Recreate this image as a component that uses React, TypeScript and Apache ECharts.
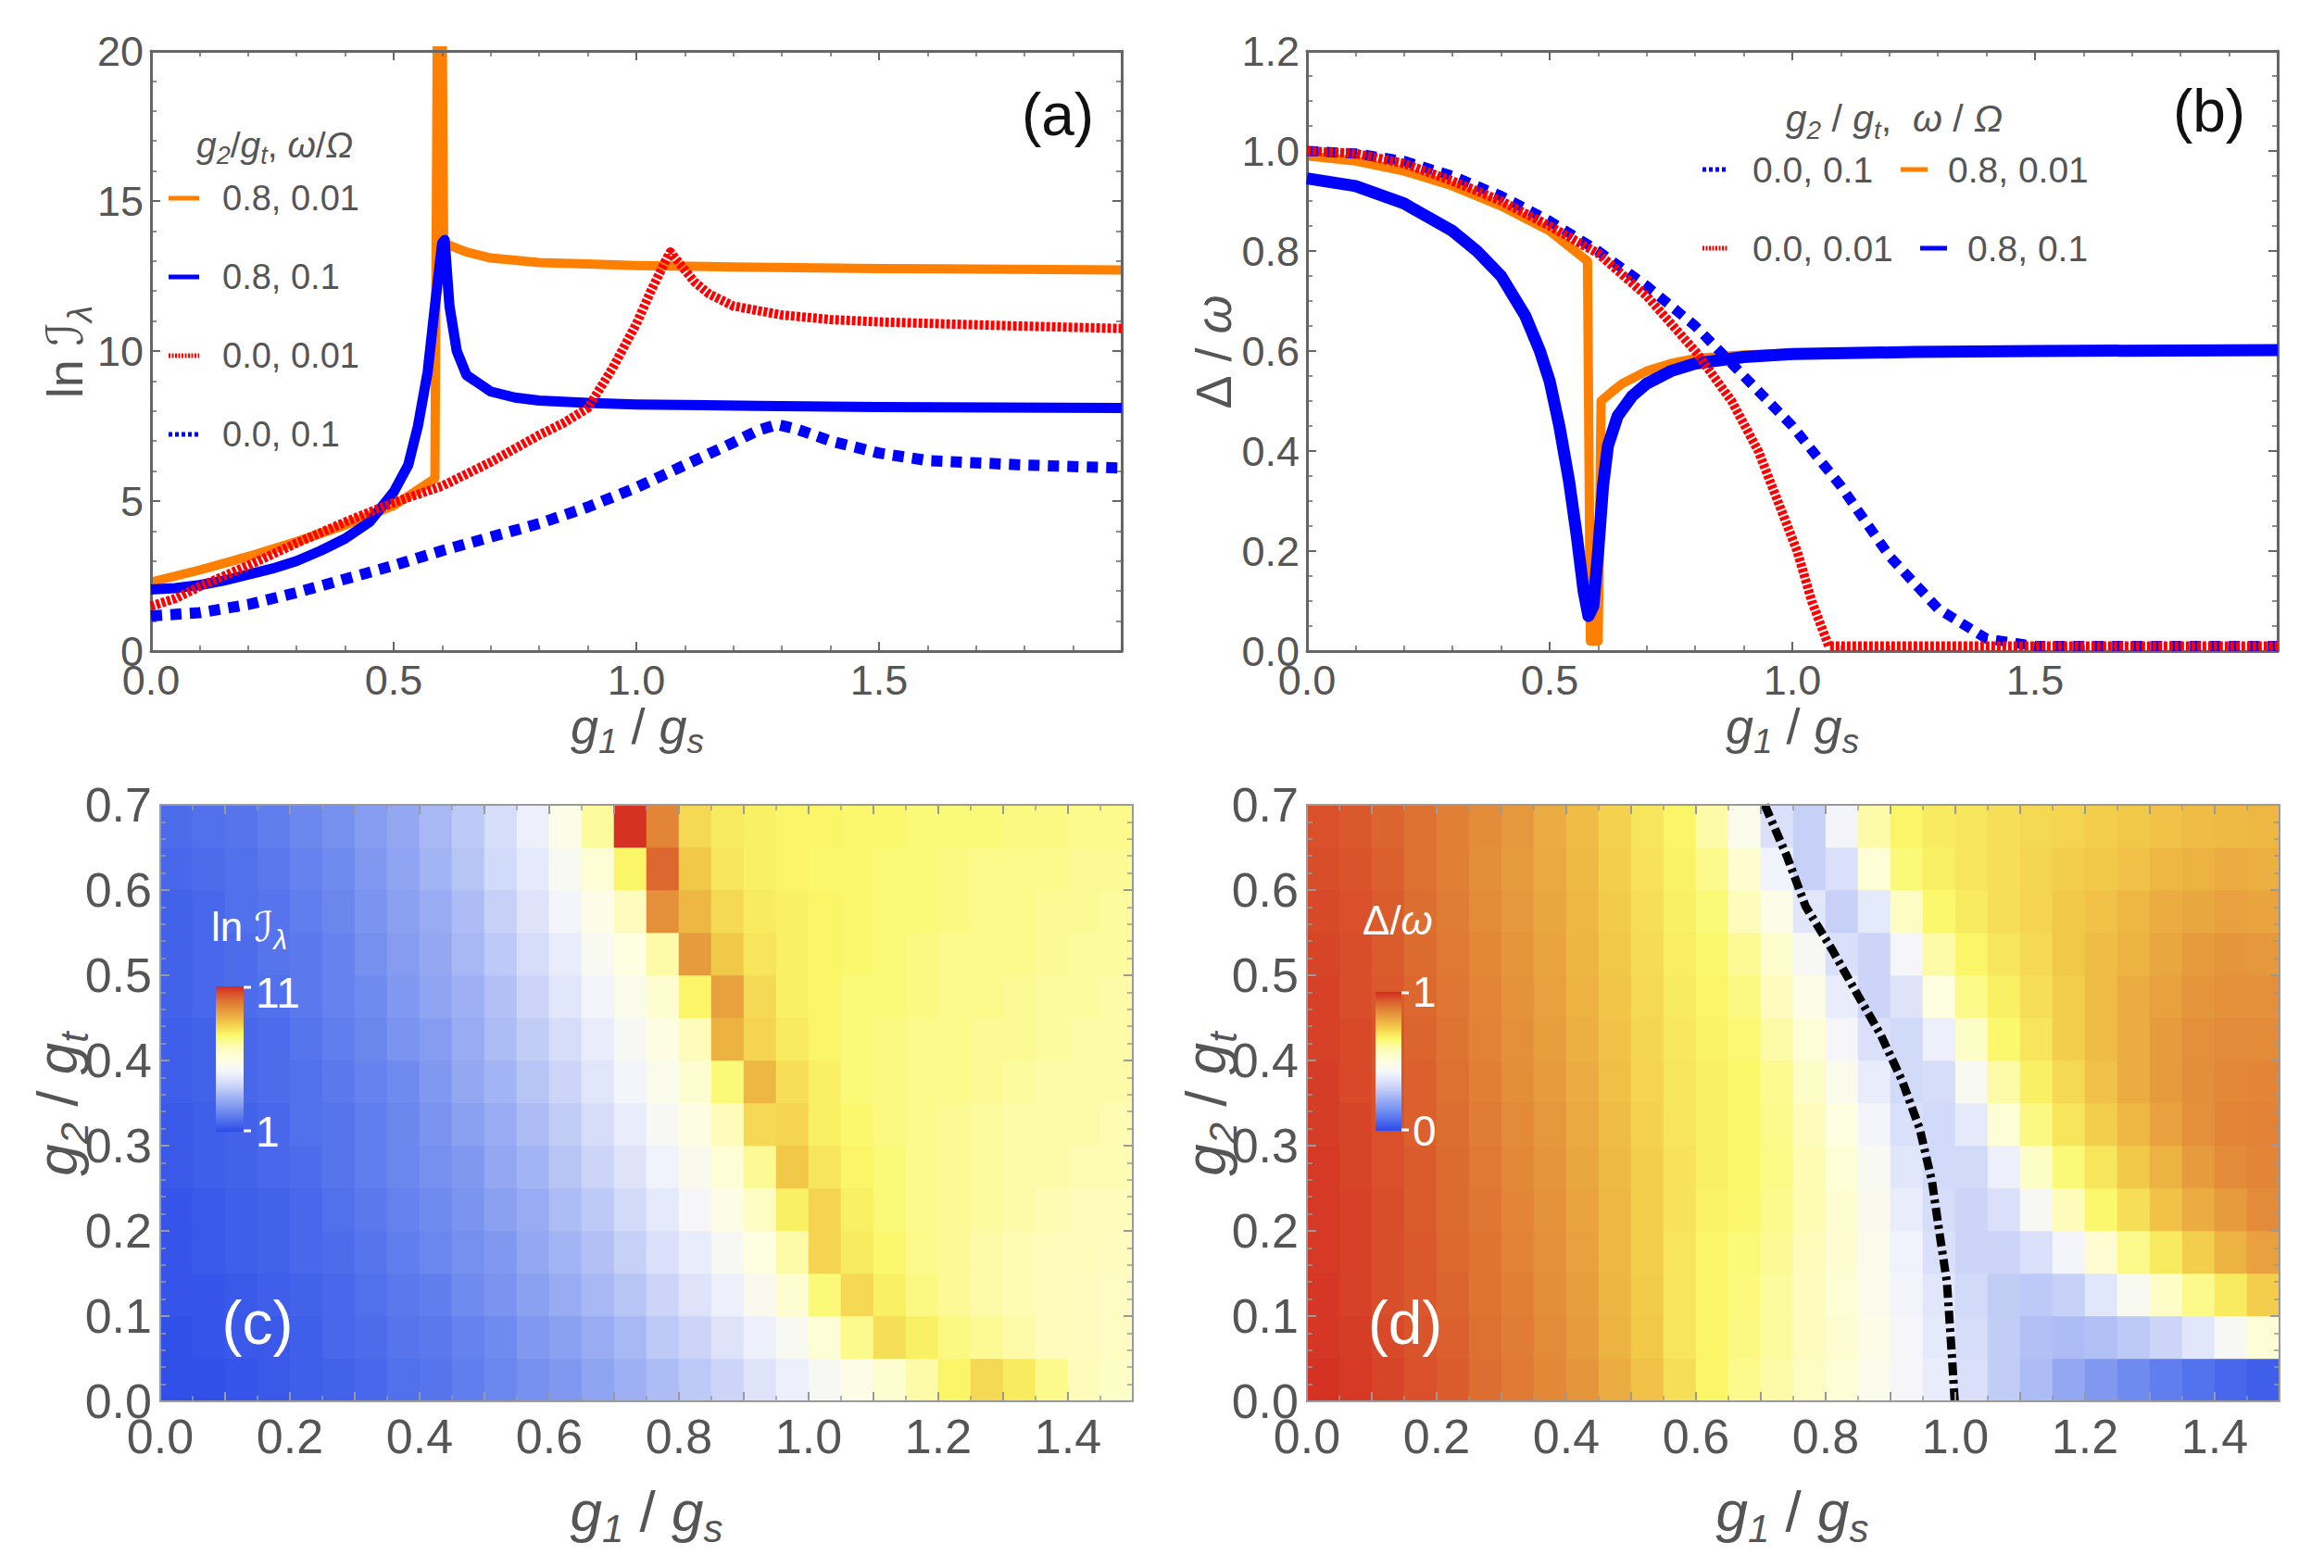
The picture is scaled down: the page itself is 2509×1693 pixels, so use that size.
import React, { useEffect, useRef } from 'react';
import * as echarts from 'echarts';

const FONT = '"Liberation Sans", Arial, Helvetica, "DejaVu Sans", sans-serif';
const TXT = '#555555';

// ---------- panel (a): ln I vs g1/gs ----------
const aOrange = [[0,2.3],[0.1,2.7],[0.2,3.15],[0.3,3.65],[0.4,4.2],[0.5,4.85],[0.585,5.75],[0.59,21],[0.6,21],[0.603,13.6],[0.65,13.3],[0.7,13.1],[0.8,12.95],[0.9,12.9],[1.0,12.85],[1.2,12.8],[1.5,12.75],[2.0,12.7]];
const aBlue = [[0,2.05],[0.05,2.1],[0.1,2.2],[0.15,2.35],[0.2,2.55],[0.25,2.75],[0.3,3.0],[0.35,3.35],[0.4,3.75],[0.45,4.3],[0.5,5.3],[0.53,6.2],[0.55,7.5],[0.57,9.3],[0.585,11.5],[0.6,13.6],[0.605,13.7],[0.615,11.5],[0.63,10.0],[0.65,9.2],[0.7,8.65],[0.75,8.45],[0.8,8.35],[0.9,8.27],[1.0,8.22],[1.25,8.17],[1.5,8.13],[2.0,8.1]];
const aRedDot = [[0,1.5],[0.05,1.75],[0.1,2.15],[0.15,2.5],[0.2,2.85],[0.3,3.6],[0.4,4.3],[0.5,4.95],[0.6,5.5],[0.7,6.3],[0.8,7.2],[0.85,7.6],[0.9,8.1],[0.95,9.4],[1.0,10.9],[1.03,12.0],[1.06,13.0],[1.07,13.3],[1.09,12.9],[1.12,12.3],[1.15,11.9],[1.2,11.5],[1.3,11.2],[1.4,11.05],[1.5,10.97],[1.75,10.85],[2.0,10.75]];
const aBlueDot = [[0,1.17],[0.1,1.28],[0.2,1.55],[0.3,1.95],[0.4,2.4],[0.5,2.85],[0.6,3.35],[0.7,3.8],[0.8,4.25],[0.9,4.8],[1.0,5.45],[1.1,6.2],[1.2,6.95],[1.25,7.35],[1.29,7.55],[1.33,7.4],[1.4,7.0],[1.5,6.6],[1.6,6.35],[1.8,6.2],[2.0,6.1]];

// ---------- panel (b): Delta/omega vs g1/gs ----------
const bOrange = [[0,0.99],[0.1,0.98],[0.2,0.96],[0.3,0.93],[0.4,0.89],[0.5,0.84],[0.578,0.78],[0.584,0.02],[0.6,0.02],[0.606,0.5],[0.63,0.52],[0.65,0.535],[0.7,0.56],[0.75,0.575],[0.8,0.585],[0.9,0.592],[1.0,0.596],[1.5,0.6],[2.0,0.6]];
const bBlue = [[0,0.945],[0.1,0.93],[0.2,0.895],[0.3,0.84],[0.35,0.8],[0.4,0.75],[0.45,0.67],[0.48,0.6],[0.5,0.54],[0.52,0.45],[0.54,0.34],[0.556,0.23],[0.57,0.12],[0.58,0.07],[0.59,0.09],[0.6,0.2],[0.61,0.33],[0.62,0.41],[0.64,0.47],[0.67,0.51],[0.7,0.535],[0.75,0.56],[0.8,0.575],[0.9,0.588],[1.0,0.594],[1.25,0.598],[1.5,0.6],[2.0,0.602]];
const bBlueDot = [[0,1.0],[0.1,0.995],[0.2,0.98],[0.3,0.95],[0.4,0.91],[0.5,0.86],[0.6,0.8],[0.7,0.73],[0.8,0.65],[0.9,0.55],[1.0,0.45],[1.1,0.33],[1.2,0.19],[1.3,0.085],[1.4,0.025],[1.5,0.01],[2.0,0.01]];
const bRedDot = [[0,1.0],[0.1,0.995],[0.2,0.975],[0.3,0.94],[0.4,0.9],[0.5,0.85],[0.6,0.795],[0.7,0.71],[0.8,0.6],[0.875,0.5],[0.93,0.4],[0.97,0.3],[1.01,0.2],[1.04,0.1],[1.075,0.01],[2.0,0.01]];

// ---------- heat maps (c), (d): cell centres ----------
const g1Centers = ['0.025','0.075','0.125','0.175','0.225','0.275','0.325','0.375','0.425','0.475','0.525','0.575','0.625','0.675','0.725','0.775','0.825','0.875','0.925','0.975','1.025','1.075','1.125','1.175','1.225','1.275','1.325','1.375','1.425','1.475'];
const g2Centers = ['0.025','0.075','0.125','0.175','0.225','0.275','0.325','0.375','0.425','0.475','0.525','0.575','0.625','0.675'];

// ln I (rows from g2 = 0.025 upward)
const lnIGrid = [
  [1.1,1.1,1.2,1.3,1.4,1.5,1.6,1.8,1.9,2.1,2.3,2.5,2.7,3.0,3.3,3.6,3.9,4.2,4.6,5.0,5.4,5.8,6.3,7.0,7.7,8.2,7.9,7.3,6.8,6.5],
  [1.1,1.2,1.3,1.3,1.4,1.6,1.7,1.9,2.0,2.2,2.4,2.7,2.9,3.2,3.5,3.9,4.2,4.6,5.0,5.5,6.2,7.3,8.1,7.8,7.4,7.2,7.0,6.8,6.7,6.6],
  [1.2,1.2,1.3,1.4,1.5,1.6,1.8,2.0,2.1,2.4,2.6,2.9,3.2,3.5,3.8,4.2,4.6,5.0,5.6,6.3,7.5,8.2,7.8,7.4,7.2,7.0,6.9,6.8,6.7,6.6],
  [1.2,1.3,1.4,1.5,1.6,1.7,1.9,2.1,2.3,2.5,2.7,3.1,3.4,3.7,4.1,4.5,4.9,5.4,6.0,7.0,8.3,7.9,7.6,7.3,7.2,7.0,6.9,6.8,6.8,6.7],
  [1.2,1.3,1.4,1.5,1.6,1.8,2.0,2.2,2.4,2.6,2.9,3.2,3.6,3.9,4.3,4.8,5.3,5.8,6.6,7.8,8.3,7.8,7.5,7.3,7.2,7.1,7.0,6.9,6.8,6.8],
  [1.3,1.4,1.5,1.6,1.7,1.9,2.1,2.3,2.5,2.7,3.1,3.4,3.8,4.2,4.6,5.1,5.6,6.2,7.2,8.5,8.0,7.7,7.5,7.3,7.2,7.1,7.0,7.0,6.9,6.9],
  [1.3,1.4,1.5,1.6,1.8,1.9,2.1,2.3,2.6,2.9,3.2,3.6,4.0,4.4,4.9,5.4,5.9,6.8,8.2,8.3,7.8,7.6,7.4,7.3,7.2,7.1,7.0,7.0,7.0,6.9],
  [1.4,1.5,1.6,1.7,1.8,2.0,2.2,2.4,2.7,3.1,3.4,3.8,4.2,4.7,5.2,5.7,6.3,7.5,8.8,8.1,7.8,7.5,7.4,7.3,7.3,7.2,7.1,7.0,7.0,7.0],
  [1.4,1.5,1.6,1.7,1.9,2.1,2.3,2.6,2.8,3.2,3.6,4.0,4.4,4.9,5.4,5.9,6.8,8.9,8.3,7.9,7.7,7.5,7.4,7.3,7.3,7.2,7.2,7.1,7.0,7.0],
  [1.5,1.6,1.7,1.8,2.0,2.2,2.4,2.7,3.0,3.3,3.7,4.2,4.7,5.2,5.7,6.3,7.7,9.2,8.2,7.8,7.7,7.5,7.5,7.4,7.3,7.3,7.2,7.1,7.1,7.0],
  [1.5,1.6,1.7,1.9,2.0,2.2,2.5,2.8,3.1,3.5,3.9,4.4,4.9,5.5,6.0,7.0,9.3,8.5,8.0,7.8,7.7,7.6,7.5,7.4,7.3,7.3,7.3,7.2,7.1,7.1],
  [1.5,1.6,1.8,1.9,2.1,2.3,2.6,2.9,3.2,3.6,4.1,4.6,5.2,5.8,6.7,9.5,8.8,8.2,7.9,7.8,7.7,7.6,7.5,7.5,7.4,7.3,7.3,7.2,7.2,7.1],
  [1.6,1.7,1.8,2.0,2.2,2.4,2.7,3.0,3.4,3.8,4.3,4.8,5.5,6.2,7.7,10.2,8.5,8.0,7.8,7.7,7.6,7.6,7.5,7.5,7.4,7.3,7.3,7.3,7.2,7.2],
  [1.7,1.8,1.9,2.1,2.3,2.5,2.8,3.1,3.5,3.9,4.4,5.0,5.8,7.1,10.9,9.7,8.2,7.9,7.8,7.7,7.7,7.6,7.6,7.5,7.5,7.5,7.4,7.4,7.3,7.3],
];

// Delta/omega (rows from g2 = 0.025 upward)
const gapGrid = [
  [.99,.98,.965,.95,.935,.91,.89,.865,.84,.8,.76,.71,.67,.63,.6,.56,.52,.47,.43,.39,.35,.3,.26,.21,.17,.14,.11,.085,.06,.04],
  [.985,.975,.96,.945,.93,.905,.885,.86,.83,.79,.75,.7,.67,.64,.61,.57,.53,.48,.43,.38,.34,.3,.27,.26,.27,.29,.32,.37,.44,.52],
  [.985,.97,.955,.94,.925,.9,.88,.855,.825,.785,.745,.7,.67,.645,.61,.57,.52,.47,.42,.37,.33,.3,.29,.31,.37,.45,.55,.63,.69,.74],
  [.98,.97,.955,.94,.92,.9,.875,.85,.82,.78,.74,.7,.67,.65,.62,.58,.53,.47,.41,.35,.32,.32,.35,.42,.53,.63,.69,.74,.79,.82],
  [.98,.97,.955,.935,.915,.895,.87,.845,.815,.78,.74,.705,.675,.66,.63,.59,.53,.46,.39,.34,.32,.35,.44,.58,.66,.71,.76,.8,.83,.86],
  [.98,.965,.95,.935,.915,.89,.865,.84,.81,.775,.74,.705,.68,.665,.635,.59,.52,.45,.37,.33,.33,.4,.55,.65,.7,.75,.79,.83,.86,.87],
  [.975,.965,.95,.93,.91,.885,.86,.835,.805,.77,.735,.7,.68,.665,.63,.58,.5,.42,.35,.33,.38,.52,.64,.7,.74,.78,.82,.85,.87,.875],
  [.975,.96,.945,.93,.905,.88,.855,.83,.8,.765,.73,.7,.68,.665,.625,.55,.47,.39,.33,.34,.45,.6,.68,.72,.76,.8,.83,.855,.865,.87],
  [.97,.96,.945,.925,.9,.875,.85,.825,.795,.76,.725,.695,.675,.655,.6,.52,.43,.35,.33,.4,.55,.66,.7,.74,.77,.8,.83,.85,.86,.86],
  [.97,.955,.94,.92,.895,.87,.845,.82,.79,.755,.72,.69,.67,.64,.57,.48,.39,.32,.36,.5,.63,.68,.71,.74,.77,.8,.82,.84,.85,.85],
  [.965,.955,.935,.915,.89,.865,.84,.815,.785,.75,.715,.685,.66,.62,.54,.44,.35,.32,.43,.6,.67,.7,.72,.75,.77,.79,.81,.83,.84,.835],
  [.96,.95,.935,.91,.885,.86,.835,.81,.78,.745,.71,.68,.65,.58,.48,.37,.31,.38,.56,.66,.69,.71,.73,.75,.76,.78,.8,.81,.82,.815],
  [.955,.945,.93,.905,.88,.855,.83,.805,.775,.74,.705,.675,.63,.53,.41,.31,.35,.52,.65,.68,.7,.71,.725,.74,.75,.76,.78,.79,.8,.795],
  [.95,.94,.925,.905,.88,.86,.835,.8,.77,.735,.7,.67,.6,.47,.35,.31,.42,.6,.67,.69,.7,.71,.72,.73,.74,.75,.76,.77,.775,.78],
];

// dot-dashed line in (d)
const dLine = [[0.999,0],[0.995,0.05],[0.987,0.14],[0.975,0.2],[0.964,0.258],[0.945,0.32],[0.918,0.376],[0.885,0.43],[0.85,0.476],[0.81,0.53],[0.769,0.581],[0.74,0.64],[0.706,0.7]];

const palette = ['#2d4be8','#5272ec','#7e97f0','#a8b8f4','#d3dbf8','#f4f5fc','#fefee0','#fdfcb8','#fbf868','#f2c848','#e69a3c','#dc6a30','#d42a22'];

const ORANGE = '#ff8000';
const BLUE = '#0000ff';
const RED = '#ff0000';

function vAxis(o: any) {
  return {
    type: 'value', gridIndex: o.grid, position: o.pos, min: o.min, max: o.max, interval: o.interval, z: o.z ?? 3,
    axisLine: { show: true, onZero: false, lineStyle: { color: o.color, width: o.lw } },
    axisTick: { show: true, inside: true, length: 10, lineStyle: { color: o.color, width: 2 } },
    minorTick: { show: true, splitNumber: o.minor, length: 6, lineStyle: { color: o.color, width: 1.5 } },
    splitLine: { show: false },
    minorSplitLine: { show: false },
    axisLabel: { show: !!o.labels, formatter: o.fmt, fontSize: o.size, color: TXT, fontFamily: FONT, margin: o.margin ?? 8, showMinLabel: true, showMaxLabel: true },
  };
}

function rich(S: number, color: string) {
  const base = { fontFamily: FONT, fill: color, color };
  const pad = Math.round(S * 0.15);
  return {
    n: { ...base, fontSize: S, lineHeight: Math.round(S * 1.2), verticalAlign: 'bottom', padding: [0, 0, pad, 0] },
    i: { ...base, fontSize: S, fontStyle: 'italic', lineHeight: Math.round(S * 1.2), verticalAlign: 'bottom', padding: [0, 0, pad, 0] },
    s: { ...base, fontSize: Math.round(S * 0.68), fontStyle: 'italic', lineHeight: Math.round(S * 0.8), verticalAlign: 'bottom' },
  };
}

function rtext(text: string, x: number, y: number, S: number, color: string, align = 'center', rotation = 0) {
  return {
    type: 'text', x, y, rotation, z: 100,
    style: { text, rich: rich(S, color), align, verticalAlign: 'middle', fill: color, fontSize: S, fontFamily: FONT },
  };
}

function ptext(text: string, x: number, y: number, S: number, color: string, align = 'left') {
  return { type: 'text', x, y, z: 100, style: { text, fill: color, fontSize: S, fontFamily: FONT, align, verticalAlign: 'middle' } };
}

function sample(x1: number, x2: number, y: number, color: string, dash: number[] | null) {
  return { type: 'line', z: 100, shape: { x1, y1: y, x2, y2: y }, style: { stroke: color, lineWidth: 5, lineDash: dash || undefined, lineCap: 'butt' } };
}

function lineSeries(data: number[][], xi: number, color: string, width: number, dash: number[] | null, z: number) {
  return {
    type: 'line', xAxisIndex: xi, yAxisIndex: xi, data, showSymbol: false, symbol: 'none', z, clip: true,
    lineStyle: { color, width, type: dash || 'solid', cap: 'butt', join: 'round' },
  };
}

const heatData = (grid: number[][]) => grid.flatMap((row, yi) => row.map((v, xi) => [xi, yi, v]));

export default function App() {
  const ref = useRef<HTMLDivElement>(null);
  useEffect(() => {
    const chart = echarts.init(ref.current!, null, { renderer: 'svg' });
    const gA = { left: 163, top: 55, width: 1048, height: 648 };
    const gB = { left: 1411, top: 55, width: 1048, height: 648 };
    const gC = { left: 173, top: 869, width: 1050, height: 644 };
    const gD = { left: 1411, top: 869, width: 1050, height: 644 };
    const fmtAx = (v: number) => (v > 1.99 ? '' : v.toFixed(1));
    const fmtAy = (v: number) => String(Math.round(v));
    const fmtBy = (v: number) => v.toFixed(1);
    const fmtCx = (v: number) => { const k = Math.round(v * 10); return k % 2 === 0 && k < 15 ? (k / 10).toFixed(1) : ''; };
    const fmtCy = (v: number) => v.toFixed(1);
    const top = '#666666';
    const bot = '#9a9a9a';
    const catX = (grid: number) => ({ type: 'category', gridIndex: grid, data: g1Centers, show: false });
    const catY = (grid: number) => ({ type: 'category', gridIndex: grid, data: g2Centers, show: false });
    const gradStops = palette.map((c, i) => ({ offset: i / (palette.length - 1), color: c }));

    const option: any = {
      animation: false,
      backgroundColor: '#ffffff',
      grid: [gA, gB, gC, gD, gC, gD].map((g) => ({ ...g, containLabel: false, outerBoundsMode: 'none' })),
      xAxis: [
        vAxis({ grid: 0, pos: 'bottom', min: 0, max: 2, interval: 0.5, minor: 5, labels: true, fmt: fmtAx, size: 45, color: top, lw: 3, margin: 9 }),
        vAxis({ grid: 0, pos: 'top', min: 0, max: 2, interval: 0.5, minor: 5, labels: false, color: top, lw: 3 }),
        vAxis({ grid: 1, pos: 'bottom', min: 0, max: 2, interval: 0.5, minor: 5, labels: true, fmt: fmtAx, size: 45, color: top, lw: 3, margin: 9 }),
        vAxis({ grid: 1, pos: 'top', min: 0, max: 2, interval: 0.5, minor: 5, labels: false, color: top, lw: 3 }),
        catX(2),
        catX(3),
        vAxis({ grid: 4, pos: 'bottom', min: 0, max: 1.5, interval: 0.1, minor: 2, labels: true, fmt: fmtCx, size: 52, color: bot, lw: 2, margin: 12, z: 8 }),
        vAxis({ grid: 4, pos: 'top', min: 0, max: 1.5, interval: 0.1, minor: 2, labels: false, color: bot, lw: 2, z: 8 }),
        vAxis({ grid: 5, pos: 'bottom', min: 0, max: 1.5, interval: 0.1, minor: 2, labels: true, fmt: fmtCx, size: 52, color: bot, lw: 2, margin: 12, z: 8 }),
        vAxis({ grid: 5, pos: 'top', min: 0, max: 1.5, interval: 0.1, minor: 2, labels: false, color: bot, lw: 2, z: 8 }),
      ],
      yAxis: [
        vAxis({ grid: 0, pos: 'left', min: 0, max: 20, interval: 5, minor: 5, labels: true, fmt: fmtAy, size: 45, color: top, lw: 3, margin: 8 }),
        vAxis({ grid: 0, pos: 'right', min: 0, max: 20, interval: 5, minor: 5, labels: false, color: top, lw: 3 }),
        vAxis({ grid: 1, pos: 'left', min: 0, max: 1.2, interval: 0.2, minor: 4, labels: true, fmt: fmtBy, size: 45, color: top, lw: 3, margin: 8 }),
        vAxis({ grid: 1, pos: 'right', min: 0, max: 1.2, interval: 0.2, minor: 4, labels: false, color: top, lw: 3 }),
        catY(2),
        catY(3),
        vAxis({ grid: 4, pos: 'left', min: 0, max: 0.7, interval: 0.1, minor: 5, labels: true, fmt: fmtCy, size: 52, color: bot, lw: 2, margin: 9, z: 8 }),
        vAxis({ grid: 4, pos: 'right', min: 0, max: 0.7, interval: 0.1, minor: 5, labels: false, color: bot, lw: 2, z: 8 }),
        vAxis({ grid: 5, pos: 'left', min: 0, max: 0.7, interval: 0.1, minor: 5, labels: true, fmt: fmtCy, size: 52, color: bot, lw: 2, margin: 9, z: 8 }),
        vAxis({ grid: 5, pos: 'right', min: 0, max: 0.7, interval: 0.1, minor: 5, labels: false, color: bot, lw: 2, z: 8 }),
      ],
      visualMap: [
        { type: 'continuous', show: false, seriesIndex: 8, dimension: 2, min: 1, max: 11, inRange: { color: palette } },
        { type: 'continuous', show: false, seriesIndex: 9, dimension: 2, min: 0, max: 1, inRange: { color: palette } },
      ],
      series: [
        lineSeries(aOrange, 0, ORANGE, 10, null, 2),
        lineSeries(aBlue, 0, BLUE, 11, null, 3),
        lineSeries(aRedDot, 0, RED, 10, [4, 2], 4),
        lineSeries(aBlueDot, 0, BLUE, 12, [12, 9], 4),
        lineSeries(bOrange, 2, ORANGE, 10, null, 2),
        lineSeries(bBlue, 2, BLUE, 13, null, 3),
        lineSeries(bBlueDot, 2, BLUE, 11, [12, 9], 4),
        lineSeries(bRedDot, 2, RED, 10, [4, 2], 5),
        { type: 'heatmap', xAxisIndex: 4, yAxisIndex: 4, data: heatData(lnIGrid), progressive: 0, itemStyle: { borderWidth: 0 }, z: 1 },
        { type: 'heatmap', xAxisIndex: 5, yAxisIndex: 5, data: heatData(gapGrid), progressive: 0, itemStyle: { borderWidth: 0 }, z: 1 },
        { type: 'line', xAxisIndex: 8, yAxisIndex: 8, data: dLine, showSymbol: false, symbol: 'none', z: 6, clip: true,
          lineStyle: { color: '#000000', width: 9, type: [14, 5, 4, 5], cap: 'butt' } },
      ],
      graphic: [
        // axis titles
        rtext('{n|ln }{n|ℐ}{s|λ}', 72, 380, 54, TXT, 'center', Math.PI / 2),
        rtext('{i|g}{s|1}{n| / }{i|g}{s|s}', 688, 786, 54, TXT),
        rtext('{n|Δ}{n| / }{i|ω}', 1312, 380, 54, TXT, 'center', Math.PI / 2),
        rtext('{i|g}{s|1}{n| / }{i|g}{s|s}', 1935, 786, 54, TXT),
        rtext('{i|g}{s|2}{n| / }{i|g}{s|t}', 64, 1192, 62, TXT, 'center', Math.PI / 2),
        rtext('{i|g}{s|1}{n| / }{i|g}{s|s}', 698, 1634, 62, TXT),
        rtext('{i|g}{s|2}{n| / }{i|g}{s|t}', 1304, 1192, 62, TXT, 'center', Math.PI / 2),
        rtext('{i|g}{s|1}{n| / }{i|g}{s|s}', 1935, 1634, 62, TXT),
        // panel labels
        ptext('(a)', 1142, 124, 64, '#111111', 'center'),
        ptext('(b)', 2385, 120, 64, '#111111', 'center'),
        ptext('(c)', 278, 1428, 66, '#ffffff', 'center'),
        ptext('(d)', 1517, 1428, 66, '#ffffff', 'center'),
        // legend (a)
        rtext('{i|g}{s|2}{n|/}{i|g}{s|t}{n|, }{i|ω}{n|/}{i|Ω}', 212, 158, 39, TXT, 'left'),
        sample(182, 215, 214, ORANGE, null),
        ptext('0.8, 0.01', 240, 214, 38, TXT),
        sample(182, 215, 299, BLUE, null),
        ptext('0.8, 0.1', 240, 299, 38, TXT),
        sample(182, 215, 384, RED, [2, 1.5]),
        ptext('0.0, 0.01', 240, 384, 38, TXT),
        sample(182, 215, 469, BLUE, [4, 3]),
        ptext('0.0, 0.1', 240, 469, 38, TXT),
        // legend (b)
        rtext('{i|g}{s|2}{n| / }{i|g}{s|t}{n|,  }{i|ω}{n| / }{i|Ω}', 2045, 130, 41, TXT, 'center'),
        sample(1838, 1866, 183, BLUE, [4, 3]),
        ptext('0.0, 0.1', 1892, 183, 39, TXT),
        sample(2052, 2081, 183, ORANGE, null),
        ptext('0.8, 0.01', 2103, 183, 39, TXT),
        sample(1838, 1866, 268, RED, [2, 1.5]),
        ptext('0.0, 0.01', 1892, 268, 39, TXT),
        sample(2073, 2102, 268, BLUE, null),
        ptext('0.8, 0.1', 2124, 268, 39, TXT),
        // colour bar (c)
        rtext('{n|ln }{n|ℐ}{s|λ}', 228, 1003, 44, '#ffffff', 'left'),
        { type: 'rect', z: 100, shape: { x: 233, y: 1065, width: 30, height: 157 }, style: { fill: new echarts.graphic.LinearGradient(0, 1, 0, 0, gradStops) } },
        { type: 'line', z: 100, shape: { x1: 263, y1: 1066, x2: 271, y2: 1066 }, style: { stroke: '#ffffff', lineWidth: 3 } },
        { type: 'line', z: 100, shape: { x1: 263, y1: 1221, x2: 271, y2: 1221 }, style: { stroke: '#ffffff', lineWidth: 3 } },
        ptext('11', 276, 1072, 46, '#ffffff'),
        ptext('1', 276, 1222, 46, '#ffffff'),
        // colour bar (d)
        rtext('{n|Δ}{n|/}{i|ω}', 1471, 996, 44, '#ffffff', 'left'),
        { type: 'rect', z: 100, shape: { x: 1485, y: 1071, width: 28, height: 150 }, style: { fill: new echarts.graphic.LinearGradient(0, 1, 0, 0, gradStops) } },
        { type: 'line', z: 100, shape: { x1: 1513, y1: 1072, x2: 1521, y2: 1072 }, style: { stroke: '#ffffff', lineWidth: 3 } },
        { type: 'line', z: 100, shape: { x1: 1513, y1: 1220, x2: 1521, y2: 1220 }, style: { stroke: '#ffffff', lineWidth: 3 } },
        ptext('1', 1525, 1071, 46, '#ffffff'),
        ptext('0', 1525, 1221, 46, '#ffffff'),
      ],
    };
    chart.setOption(option);
    return () => chart.dispose();
  }, []);
  return <div ref={ref} style={{ position: 'fixed', left: 0, top: 0, width: 2509, height: 1693, background: '#ffffff' }} />;
}
